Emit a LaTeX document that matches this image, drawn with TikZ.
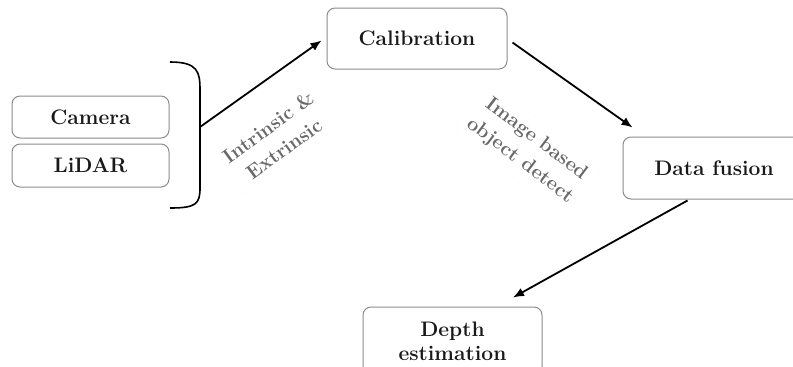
\documentclass[tikz,border=0pt]{standalone}
\usetikzlibrary{calc,arrows.meta}
\definecolor{boxline}{RGB}{140,140,140}
\definecolor{labelgray}{RGB}{105,105,105}
\definecolor{inktext}{RGB}{25,25,25}
\begin{document}
\begin{tikzpicture}[x=1pt,y=-1pt,
  stagebox/.style={draw=boxline, line width=1pt, rounded corners=8pt, fill=white,
    text=inktext, font=\fontsize{21}{25}\selectfont\bfseries, align=center, inner sep=0pt},
  flow/.style={-{Latex[length=11pt,width=9pt]}, line width=1.8pt},
  edgelabel/.style={text=labelgray, font=\fontsize{20}{25}\selectfont\bfseries, align=center,
    draw=gray!12, dotted, rounded corners=10pt, inner sep=8pt}]
  \useasboundingbox (0,0) rectangle (793,367);
  \begin{scope}
    \clip (0,0) rectangle (793,367);
    % sensor boxes
    \node[stagebox, minimum width=157pt, minimum height=42pt] (cam) at (90.5,117) {Camera};
    \node[stagebox, minimum width=157pt, minimum height=43pt] (lidar) at (90.5,165.5) {LiDAR};
    % processing stages
    \node[stagebox, minimum width=180pt, minimum height=61pt] (cal) at (417,38.5) {Calibration};
    \node[stagebox, minimum width=182pt, minimum height=62pt] (fus) at (714,168) {Data fusion};
    \node[stagebox, minimum width=179pt, minimum height=68pt] (depth) at (452.5,341) {Depth\\[-1pt]estimation};
    % brace grouping the sensors
    \draw[line width=1.6pt] (170,62) .. controls (198,62) and (200,72) .. (200,90)
      -- (200,188) .. controls (200,204) and (196,208) .. (170,208);
    \coordinate (grp) at (200,127);
    % connectors
    \draw[flow] (grp) -- ($(cal.west)+(-5,2)$);
    \draw[flow] ($(cal.east)+(5,4)$) -- ($(fus.north west)+(10,-9)$);
    \draw[flow] ($(fus.south west)+(65,1)$) -- ($(depth.north)+(60.5,-9)$);
    % edge labels
    \node[edgelabel, rotate=36] (lblA) at (276,138) {Intrinsic \&\\[2pt]Extrinsic};
    \node[edgelabel, rotate=-37] (lblB) at (528,150) {Image based\\[2pt]object detect};
  \end{scope}
\end{tikzpicture}
\end{document}
